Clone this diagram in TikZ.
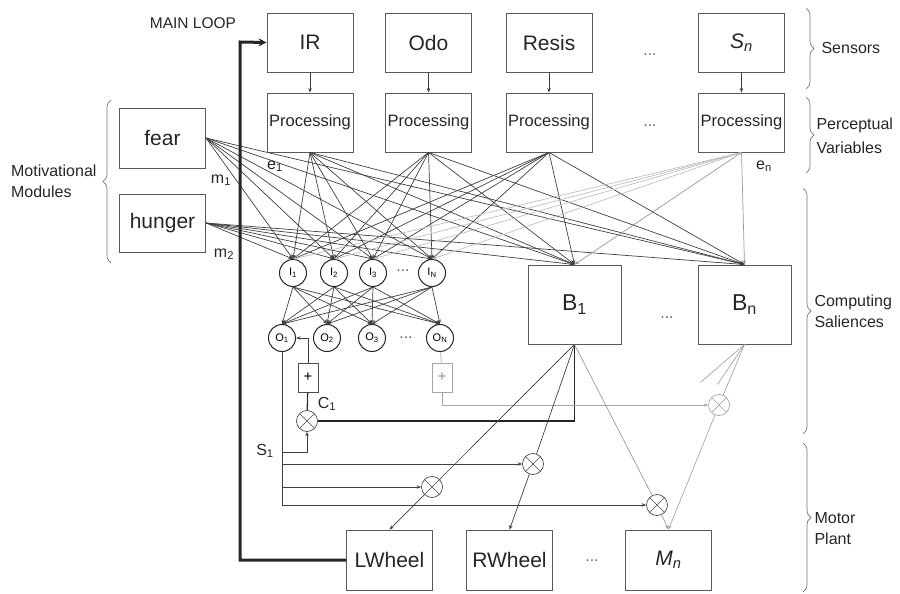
\documentclass[tikz,border=0pt]{standalone}
\usepackage{fontspec}
\setmainfont{Liberation Sans}
\usetikzlibrary{arrows.meta,decorations.pathreplacing}
\newcommand{\fsz}[1]{\fontsize{#1}{#1}\selectfont}

\begin{document}
\begin{tikzpicture}[x=1pt, y=-1pt,
    box/.style={draw=black!65, line width=0.9pt, minimum width=86pt, minimum height=59pt, inner sep=1pt, font=\fsz{21}, text=black!85},
    unit/.style={circle, draw=black!85, line width=1pt, minimum size=27pt, inner sep=0pt, font=\fsz{11}},
    mult/.style={circle, draw=black!70, line width=0.7pt, minimum size=21pt, inner sep=0pt,
        path picture={\draw[black!70, line width=0.5pt] (path picture bounding box.south west) -- (path picture bounding box.north east)
            (path picture bounding box.north west) -- (path picture bounding box.south east);}},
    plusbox/.style={draw=black!70, line width=0.7pt, minimum width=20pt, minimum height=29pt, inner sep=0pt, font=\fsz{15}},
    wire/.style={draw=black!75, line width=0.7pt, -{Stealth[length=4.5pt,width=3.5pt]}},
    line/.style={draw=black!75, line width=0.7pt},
    lbl/.style={font=\fontsize{16}{21}\selectfont, text=black!85},
    dots/.style={font=\fsz{16}, text=black!60},
    brc/.style={draw=black!55, line width=0.7pt, decorate, decoration={brace, amplitude=8pt}}
]
    \useasboundingbox (0,0) rectangle (900,594);

    % Sensors and perceptual processing
    \foreach \n/\x/\t in {1/310/IR, 2/428.5/Odo, 3/549/Resis, 4/741.5/\textit{S\textsubscript{n}}} {
        \node[box] (s\n) at (\x,42.5) {\t};
        \node[box, font=\fsz{16.5}] (p\n) at (\x,122.5) {Processing};
        \draw[wire] (s\n) -- (p\n);
    }
    \node[dots] (sdots) at (650,55) {...};
    \node[dots] (pdots) at (650,126) {...};

    % Motivational modules
    \node[box, minimum height=60pt] (fear) at (162.5,138) {fear};
    \node[box, minimum height=58pt] (hunger) at (162.5,223) {hunger};

    % Input and output units
    \foreach \n/\x in {1/293, 2/334, 3/373} {
        \node[unit] (i\n) at (\x,273) {I\textsubscript{\n}};
    }
    \node[unit] (iN) at (432,273) {I\textsubscript{N}};
    \foreach \n/\x in {1/282, 2/327, 3/372} {
        \node[unit] (o\n) at (\x,338) {O\textsubscript{\n}};
    }
    \node[unit] (oN) at (440,338) {O\textsubscript{N}};
    \node[dots] (idots) at (403,271) {...};
    \node[dots] (odots) at (406,338) {...};

    % Behaviours
    \node[box, minimum width=93pt, minimum height=79pt, font=\fsz{23}] (b1) at (574.5,304.5) {B\textsubscript{1}};
    \node[box, minimum width=93pt, minimum height=79pt, font=\fsz{23}] (bn) at (744.5,304.5) {B\textsubscript{n}};
    \node[dots] (bdots) at (667,318) {...};

    % Motors
    \node[box, minimum height=60pt] (lw) at (389.5,560) {LWheel};
    \node[box, minimum height=60pt] (rw) at (509.5,560) {RWheel};
    \node[box, minimum height=60pt] (mn) at (668.5,560) {\textit{M\textsubscript{n}}};
    \node[dots] (mdots) at (592,561) {...};

    % Integrators and multipliers
    \node[plusbox] (pb1) at (308,377.5) {+};
    \node[plusbox, draw=black!35, text=black!45] (pbN) at (442,377.5) {+};
    \node[mult] (mc1) at (307,421) {};
    \node[mult] (ma) at (533,464) {};
    \node[mult] (mb) at (432,487) {};
    \node[mult] (mc) at (657,505) {};
    \node[mult, draw=black!35, path picture={\draw[black!35] (path picture bounding box.south west) -- (path picture bounding box.north east)
        (path picture bounding box.north west) -- (path picture bounding box.south east);}] (mg) at (719,405) {};

    % Perceptual and motivational variables to units and behaviours
    \foreach \p in {p1,p2,p3} {
        \foreach \t in {i1,i2,i3,iN,b1,bn} {
            \draw[wire] (\p.south) -- (\t.north);
        }
    }
    \foreach \m in {fear,hunger} {
        \foreach \t in {i1,i2,i3,iN,b1,bn} {
            \draw[wire] (\m.east) -- (\t.north);
        }
    }
    \foreach \t in {i1,i2,i3,iN} {
        \draw[wire, draw=black!25] (p4.south) -- (\t.north);
    }
    \draw[wire, draw=black!40] (p4.south) -- (b1.north);
    \draw[wire, draw=black!40] (p4.south) -- (bn.north);

    % Input units to output units
    \foreach \i in {i1,i2,i3,iN} {
        \foreach \o in {o1,o2,o3,oN} {
            \draw[wire] (\i.south) -- (\o.north);
        }
    }

    % Saliences
    \coordinate (sjoin) at (282,452);
    \draw[line] (o1.south) -- (o1 |- mc);
    \draw[wire] (sjoin) -| (mc1.south);
    \draw[wire] (o1 |- ma) -- (ma);
    \draw[wire] (o1 |- mb) -- (mb);
    \draw[wire] (o1 |- mc) -- (mc);
    \draw[draw=black!80, line width=1.3pt] (mc1) -- (pb1);
    \draw[wire] (pb1.north) |- (o1.east);
    \draw[draw=black!85, line width=1.6pt] (b1.south) |- (mc1.east);
    \draw[draw=black!35, line width=0.7pt] (oN) -- (pbN);
    \draw[wire, draw=black!35] (pbN.south) |- (mg.west);

    % Behaviours to motors
    \draw[line] (b1.south) -- (mb);
    \draw[wire] (mb) -- (lw.north);
    \draw[line] (b1.south) -- (ma);
    \draw[wire] (ma) -- (rw.north);
    \draw[line, draw=black!40] (b1.south) -- (mc);
    \draw[wire, draw=black!40] (mc) -- (mn.north);
    \draw[line, draw=black!35] (bn.south) -- (mg);
    \draw[wire, draw=black!35] (mg) -- (mn.north);
    \draw[line, draw=black!35] (bn.south) -- ++(-44,38);
    \draw[line, draw=black!35] (bn.south) -- ++(-27,40);

    % Main loop
    \coordinate (ml) at (240,42);
    \draw[draw=black!85, line width=3pt, -{Stealth[length=8pt,width=8pt]}] (lw.west) -| (ml) -- (s1.west);

    % Labels
    \node[lbl, font=\fsz{15.5}] (mainloop) at (193,23) {MAIN LOOP};
    \node[lbl] (e1) at (275,166) {e\textsubscript{1}};
    \node[lbl] (en) at (764,166) {e\textsubscript{n}};
    \node[lbl] (m1) at (221,180) {m\textsubscript{1}};
    \node[lbl] (m2) at (224,254) {m\textsubscript{2}};
    \node[lbl] (c1) at (327,404) {C\textsubscript{1}};
    \node[lbl] (s1lbl) at (265,451) {S\textsubscript{1}};

    % Braces
    \draw[brc] (806,8) -- (806,89);
    \draw[brc] (806,97) -- (806,173);
    \draw[brc] (803,188) -- (803,434);
    \draw[brc] (803,443) -- (803,592);
    \draw[brc] (111,263) -- (111,100);
    \node[lbl, anchor=west] (sens) at (818,48) {Sensors};
    \node[lbl, anchor=west, align=left, font=\fontsize{16}{24}\selectfont] (perc) at (813,136) {Perceptual\\Variables};
    \node[lbl, anchor=west, align=left] (comp) at (811,311) {Computing\\Saliences};
    \node[lbl, anchor=west, align=left] (mot) at (811,529) {Motor\\Plant};
    \node[lbl, anchor=east, align=left] (motiv) at (100,181) {Motivational\\Modules};
\end{tikzpicture}
\end{document}
